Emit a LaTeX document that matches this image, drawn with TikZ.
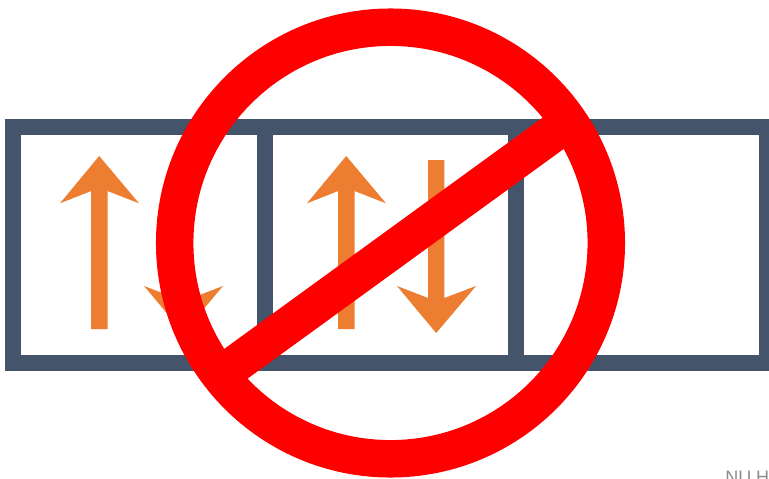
\documentclass[tikz,border=0pt]{standalone}
\usepackage{fontspec}
\setmainfont{Liberation Sans}
\definecolor{slatebar}{HTML}{44546A}
\definecolor{arroworange}{HTML}{ED7D31}
\definecolor{nored}{HTML}{FF0000}
\definecolor{cliptext}{HTML}{8C8C8C}
\tikzset{
  cellbar/.style={draw=slatebar,line width=12pt,line join=miter},
  orangefill/.style={fill=arroworange,draw=none},
  noring/.style={draw=nored,line width=28.1pt},
  noslash/.style={draw=nored,line width=28.3pt},
}
\begin{document}
\begin{tikzpicture}[x=0.75pt,y=-0.75pt]
\useasboundingbox (0,0) rectangle (769,479);
\clip (0,0) rectangle (769,479);
\fill[white] (0,0) rectangle (769,479);
% cells
\draw[cellbar] (13,127.3) rectangle (264.5,363.3);
\draw[cellbar] (264.5,127.3) rectangle (515.8,363.3);
\draw[cellbar] (515.8,127.3) rectangle (767,363.3);
% arrows
\fill[orangefill] (99.2,156) -- (139,203.3) -- (107.5,191) -- (107.5,329) -- (91.2,329) -- (91.2,191) -- (60,203.3) -- cycle;
\fill[orangefill] (346.2,156) -- (386,203.3) -- (354.5,191) -- (354.5,329) -- (338.2,329) -- (338.2,191) -- (307,203.3) -- cycle;
\fill[orangefill] (183.5,333) -- (223,286) -- (191.7,298) -- (191.7,160) -- (175.4,160) -- (175.4,298) -- (144,286) -- cycle;
\fill[orangefill] (436.2,333) -- (476,286) -- (444.4,298) -- (444.4,160) -- (428.1,160) -- (428.1,298) -- (397,286) -- cycle;
% prohibition sign
\coordinate (ringc) at (390.5,243);
\coordinate (slasha) at (219.3,375.8);
\coordinate (slashb) at (568.7,122);
\draw[noslash] (slasha) -- (slashb);
\draw[noring] (ringc) circle [radius=215.8];
\node[anchor=north west,inner sep=0pt,text=cliptext,font=\fontsize{13.5pt}{14pt}\selectfont] (cut) at (725,471) {NU H};
\end{tikzpicture}
\end{document}
